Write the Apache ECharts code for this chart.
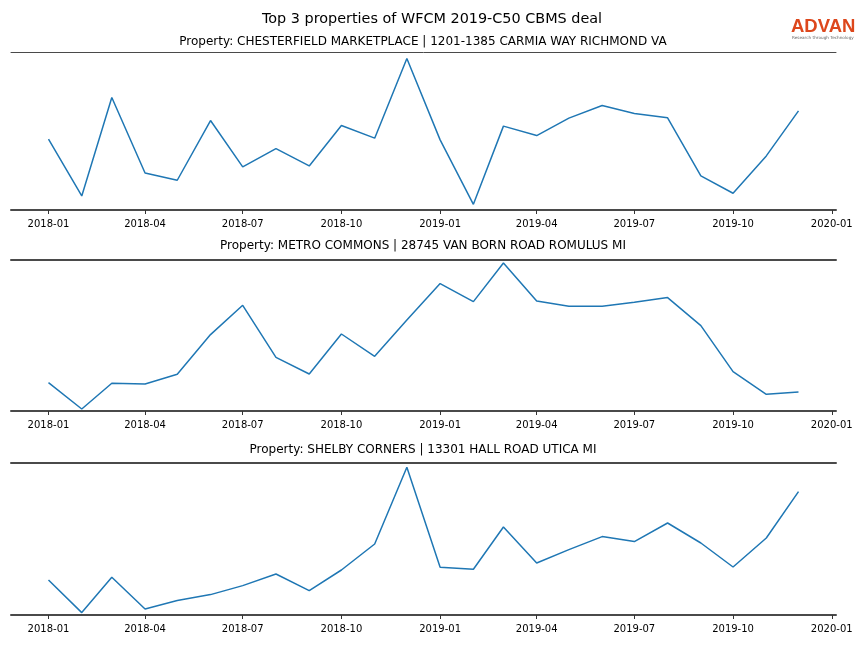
<!DOCTYPE html>
<html>
<head>
<meta charset="utf-8">
<script src="https://cdn.jsdelivr.net/npm/echarts@6/dist/echarts.min.js"></script>
<style>html,body{margin:0;padding:0;background:#fff}#c{width:864px;height:648px}</style>
</head>
<body>
<div id="c"></div>
<script>
const months = ['2018-01','2018-02','2018-03','2018-04','2018-05','2018-06','2018-07','2018-08','2018-09','2018-10','2018-11','2018-12',
                '2019-01','2019-02','2019-03','2019-04','2019-05','2019-06','2019-07','2019-08','2019-09','2019-10','2019-11','2019-12'];
const tickLabels = ['2018-01','2018-04','2018-07','2018-10','2019-01','2019-04','2019-07','2019-10','2020-01'];
const titles = [
  'Property: CHESTERFIELD MARKETPLACE | 1201-1385 CARMIA WAY RICHMOND VA',
  'Property: METRO COMMONS | 28745 VAN BORN ROAD ROMULUS MI',
  'Property: SHELBY CORNERS | 13301 HALL ROAD UTICA MI'
];
const chesterfield = [70.7,14,112.3,37,29.7,89.3,43,61.3,44,84.3,71.7,151.3,70,5.7,83.7,74.3,91.7,104.3,96.3,92,34,16.7,54,99];
const metroCommons = [28.4,2,27.7,27,36.7,76.4,105.7,53.7,37,77,54.7,91,127.4,109.4,148,110,104.7,104.7,108.7,113.4,85.4,39.4,16.7,19];
const shelbyCorners = [35,2.4,37.7,6,14.4,20.4,29.4,41,24.4,45,71,147.7,47.7,45.7,88,52,65.4,78.4,73.4,92,72,48,77,123.4];
const yMaxes = [157.7, 151, 152];

const DAY = 86400000;
function dayNum(s){const p=s.split('-');return Date.UTC(+p[0],+p[1]-1,1)/DAY;}
const xs = months.map(dayNum);
const ticks = tickLabels.map(dayNum);
const xr = xs[xs.length-1]-xs[0];
const xMin = xs[0]-0.05*xr, xMax = xs[xs.length-1]+0.05*xr;
function fmt(v){const d=new Date(Math.round(v)*DAY);const m=d.getUTCMonth()+1;return d.getUTCFullYear()+'-'+(m<10?'0':'')+m;}

const seriesData = [chesterfield, metroCommons, shelbyCorners];
const grids = [{top:52,height:158},{top:260,height:151},{top:463,height:152}];
const titleY = [42, 246, 450];
const spine = '#4a4a4a';
const font = 'DejaVu Sans';

const option = {
  animation:false,
  textStyle:{fontFamily:font},
  grid: grids.map(g=>({left:11,right:28,top:g.top,height:g.height})),
  xAxis: [], yAxis: [], series: [],
  graphic:[
    {type:'text',x:432,y:19,style:{text:'Top 3 properties of WFCM 2019-C50 CBMS deal',font:'14.4px "DejaVu Sans"',fill:'#000',textAlign:'center',textVerticalAlign:'middle'}},
    {type:'text',x:791,y:27,style:{text:'ADVAN',font:'bold 18.5px "Liberation Sans"',fill:'#dd471c',textAlign:'left',textVerticalAlign:'middle'}},
    {type:'text',x:792,y:38,style:{text:'Research through Technology',font:'4.2px "DejaVu Sans"',fill:'#666',textAlign:'left',textVerticalAlign:'middle'}}
  ].concat(titles.map((t,i)=>({type:'text',x:423,y:titleY[i],
      style:{text:t,font:'12px "DejaVu Sans"',fill:'#000',textAlign:'center',textVerticalAlign:'middle'}})))
};

seriesData.forEach((d,i)=>{
  option.xAxis.push({type:'value',gridIndex:i,min:xMin,max:xMax,position:'bottom',
    axisLine:{show:true,onZero:false,lineStyle:{color:spine,width:2}},
    axisTick:{show:true,customValues:ticks,length:4,lineStyle:{color:'#333',width:1}},
    axisLabel:{show:true,customValues:ticks,formatter:fmt,margin:9,fontSize:10,fontFamily:font,color:'#000',hideOverlap:false,showMinLabel:true,showMaxLabel:true},
    splitLine:{show:false}});
  option.xAxis.push({type:'value',gridIndex:i,min:xMin,max:xMax,position:'top',
    axisLine:{show:true,onZero:false,lineStyle:{color:spine,width:i===0?1:2}},
    axisTick:{show:false},axisLabel:{show:false},splitLine:{show:false}});
  option.yAxis.push({type:'value',gridIndex:i,min:0,max:yMaxes[i],show:false,splitLine:{show:false}});
  option.series.push({type:'line',xAxisIndex:i*2,yAxisIndex:i,symbol:'none',
    data:xs.map((x,j)=>[x,d[j]]),lineStyle:{color:'#1f77b4',width:1.5}});
});

const chart = echarts.init(document.getElementById('c'),null,{renderer:'canvas'});
chart.setOption(option);
</script>
</body>
</html>
